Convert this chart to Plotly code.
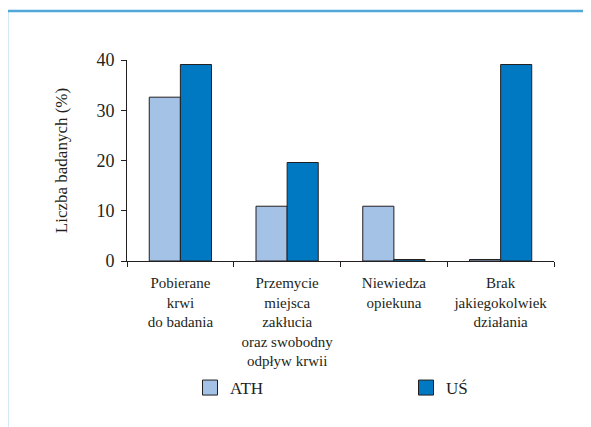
import plotly.graph_objects as go

categories = ["Pobierane<br>krwi<br>do badania",
              "Przemycie<br>miejsca<br>zakłucia<br>oraz swobodny<br>odpływ krwii",
              "Niewiedza<br>opiekuna",
              "Brak<br>jakiegokolwiek<br>działania"]
ath = [32.6, 10.9, 10.9, 0.3]
us = [39.1, 19.6, 0.3, 39.1]
series_names = ["ATH", "UŚ"]
colors = ["#a4c2e6", "#0079c2"]

OFF = 8  # page body margin
W, H = 591 - OFF, 427 - OFF
L, R, T, B = 127 - OFF, 45 - OFF, 60 - OFF, 166
pw, ph = W - L - R, H - T - B

def px2paper_x(px):
    return (px - OFF - L) / pw

def px2paper_y(py):
    return (H - B - (py - OFF)) / ph

FAM = "Liberation Serif"
INK = "#231f20"

def fnt(size):
    return dict(family=FAM, size=size, color=INK)

fig = go.Figure()
legend_ids = ["legend", "legend2"]
legend_x = [190, 406]
for name, vals, col, lid in zip(series_names, [ath, us], colors, legend_ids):
    fig.add_trace(go.Bar(x=categories, y=vals, name=name, marker=dict(color=col, line=dict(color=INK, width=1)),
                         showlegend=False))
    fig.add_trace(go.Scatter(x=[None], y=[None], mode="markers", name=name, legend=lid,
                             marker=dict(symbol="square", size=15, color=col, line=dict(color=INK, width=1))))

leg_common = dict(orientation="h", xanchor="left", yanchor="middle", y=px2paper_y(388),
                  font=fnt(17), bgcolor="rgba(0,0,0,0)")
fig.update_layout(
    template="none",
    width=W, height=H,
    margin=dict(l=L, r=R, t=T, b=B),
    paper_bgcolor="white", plot_bgcolor="white",
    barmode="group", bargap=0.417, bargroupgap=0,
    font=fnt(16),
    legend=dict(x=px2paper_x(legend_x[0]), **leg_common),
    legend2=dict(x=px2paper_x(legend_x[1]), **leg_common),
    xaxis=dict(showline=True, linecolor=INK, linewidth=1, ticks="outside", ticklen=5, tickcolor=INK,
               tickson="boundaries", tickfont=fnt(15), showgrid=False, zeroline=False, fixedrange=True,
               automargin=False, ticklabelstandoff=8),
    yaxis=dict(range=[0, 40], tickvals=[0, 10, 20, 30, 40], showline=True, linecolor=INK, linewidth=1,
               ticks="outside", ticklen=5, tickcolor=INK, showgrid=False, zeroline=False,
               tickfont=fnt(18), automargin=False, ticklabelstandoff=3,
               title=dict(text="Liczba badanych (%)", font=fnt(17), standoff=24)),
    shapes=[
        dict(type="line", xref="paper", yref="paper", x0=px2paper_x(7), x1=px2paper_x(700),
             y0=px2paper_y(11), y1=px2paper_y(11), line=dict(color="#52a7d9", width=2.5)),
        dict(type="line", xref="paper", yref="paper", x0=px2paper_x(7), x1=px2paper_x(7),
             y0=px2paper_y(11), y1=px2paper_y(600), line=dict(color="#52a7d9", width=2.5)),
    ],
)
fig.write_html("out.html")
